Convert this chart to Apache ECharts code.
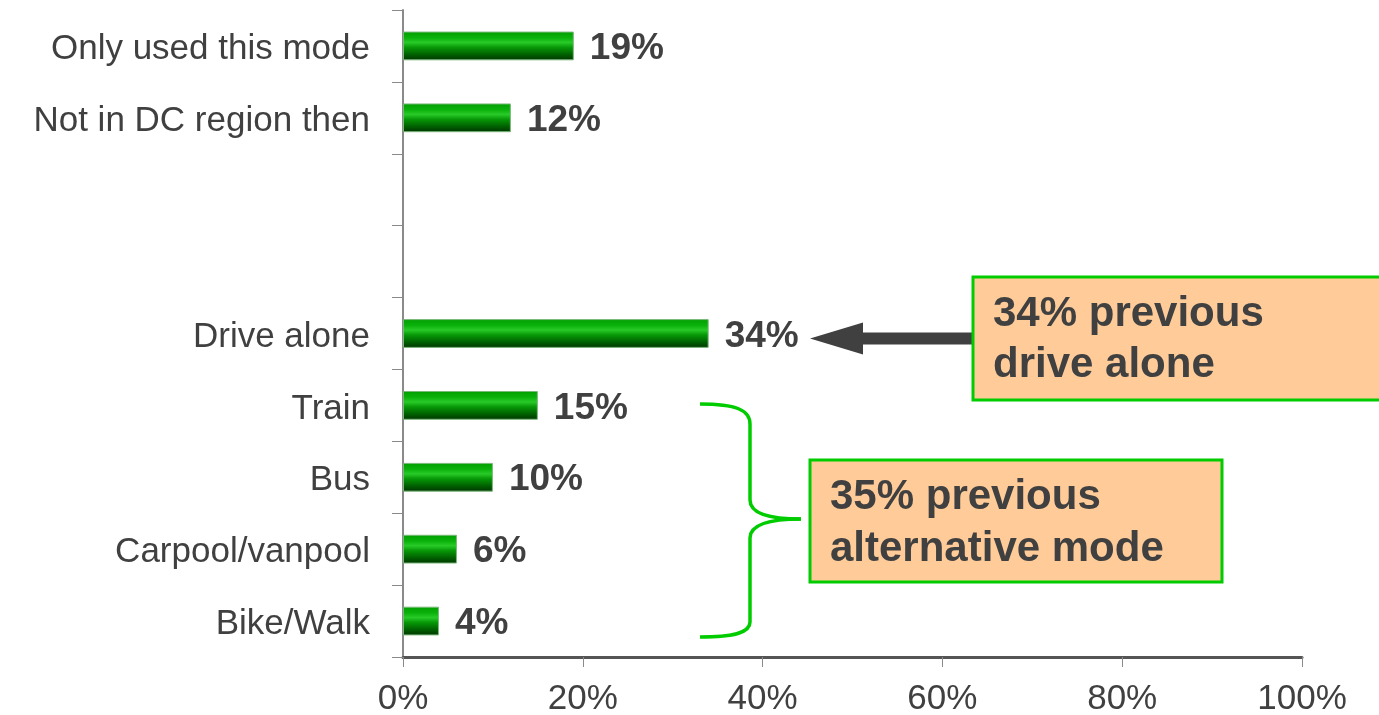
<!DOCTYPE html>
<html>
<head>
<meta charset="utf-8">
<script src="https://cdn.jsdelivr.net/npm/echarts@6/dist/echarts.min.js"></script>
<style>
  html, body { margin: 0; padding: 0; background: #ffffff; }
  #chart { width: 1379px; height: 715px; }
</style>
</head>
<body>
<div id="chart"></div>
<script>
// ---- data ----
const categories = ['Only used this mode', 'Not in DC region then', '', ' ', 'Drive alone', 'Train', 'Bus', 'Carpool/vanpool', 'Bike/Walk'];
const values = [19, 12, null, null, 34, 15, 10, 6, 4];
const xTicks = [0, 20, 40, 60, 80, 100];
const noteDrive = '34% previous\ndrive alone';
const noteAlt = '35% previous\nalternative mode';

const textColor = '#404040';
const barGradient = new echarts.graphic.LinearGradient(0, 0, 0, 1, [
  { offset: 0, color: '#009e00' },
  { offset: 0.22, color: '#0bb20b' },
  { offset: 0.38, color: '#28ca28' },
  { offset: 0.55, color: '#079807' },
  { offset: 0.8, color: '#006000' },
  { offset: 1, color: '#003400' }
]);

const chart = echarts.init(document.getElementById('chart'), null, { renderer: 'canvas' });

const option = {
  backgroundColor: '#ffffff',
  animation: false,
  grid: { left: 403, right: 77, top: 10, bottom: 58, containLabel: false, outerBoundsMode: 'none' },
  xAxis: {
    type: 'value',
    min: xTicks[0],
    max: xTicks[xTicks.length - 1],
    interval: xTicks[1] - xTicks[0],
    axisLine: { show: true, lineStyle: { color: '#555555', width: 3 } },
    axisTick: { show: true, length: 10, lineStyle: { color: '#8a8a8a', width: 1 } },
    splitLine: { show: false },
    axisLabel: {
      formatter: '{value}%',
      fontFamily: 'Liberation Sans',
      fontSize: 35,
      color: textColor,
      margin: 25
    }
  },
  yAxis: {
    type: 'category',
    inverse: true,
    data: categories,
    axisLine: { show: true, lineStyle: { color: '#8a8a8a', width: 2 } },
    axisTick: { show: true, length: 11, lineStyle: { color: '#8a8a8a', width: 1 } },
    axisLabel: {
      margin: 33,
      formatter: function (v) { return v.trim() ? '{t|' + v + '}' : ''; },
      rich: {
        t: { fontFamily: 'Liberation Sans', fontSize: 35, color: textColor, padding: [7, 0, 0, 0] }
      }
    }
  },
  series: [{
    type: 'bar',
    data: values,
    barWidth: '40%',
    itemStyle: { color: barGradient, borderColor: '#7ab87a', borderWidth: 1 },
    label: {
      show: true,
      position: 'right',
      distance: 16,
      offset: [0, 3],
      formatter: function (p) { return p.value == null ? '' : p.value + '%'; },
      fontFamily: 'Liberation Sans',
      fontWeight: 'bold',
      fontSize: 37,
      color: textColor
    }
  }]
};
chart.setOption(option);

// ---- annotations ----
const green = '#00cc00';
const boxFill = '#ffcc99';
const yDrive = chart.convertToPixel({ gridIndex: 0 }, [0, 4])[1];
const arrowY = yDrive + 5;
const braceStyle = { fill: null, stroke: green, lineWidth: 3.5 };

chart.setOption({
  graphic: [
    // arrow shaft + head
    { type: 'rect', shape: { x: 858, y: arrowY - 6, width: 116, height: 12 }, style: { fill: '#404040' }, z: 10 },
    { type: 'polygon', shape: { points: [[810, arrowY], [863, arrowY - 16], [863, arrowY + 16]] }, style: { fill: '#404040' }, z: 10 },
    // box 1
    { type: 'rect', shape: { x: 973, y: 277, width: 430, height: 123 }, style: { fill: boxFill, stroke: green, lineWidth: 3 }, z: 11 },
    { type: 'text', x: 993, y: 340, style: { text: noteDrive, font: 'bold 42px "Liberation Sans"', fill: textColor, lineHeight: 51, verticalAlign: 'middle', align: 'left' }, z: 12 },
    // brace
    { type: 'bezierCurve', shape: { x1: 700, y1: 404, cpx1: 736, cpy1: 404, cpx2: 750, cpy2: 410, x2: 750, y2: 424 }, style: braceStyle, z: 10 },
    { type: 'line', shape: { x1: 750, y1: 424, x2: 750, y2: 500 }, style: braceStyle, z: 10 },
    { type: 'bezierCurve', shape: { x1: 750, y1: 500, cpx1: 750, cpy1: 512, cpx2: 764, cpy2: 519, x2: 801, y2: 519 }, style: braceStyle, z: 10 },
    { type: 'bezierCurve', shape: { x1: 801, y1: 519, cpx1: 764, cpy1: 519, cpx2: 750, cpy2: 526, x2: 750, y2: 538 }, style: braceStyle, z: 10 },
    { type: 'line', shape: { x1: 750, y1: 538, x2: 750, y2: 622 }, style: braceStyle, z: 10 },
    { type: 'bezierCurve', shape: { x1: 750, y1: 622, cpx1: 750, cpy1: 632, cpx2: 736, cpy2: 637, x2: 700, y2: 637 }, style: braceStyle, z: 10 },
    // box 2
    { type: 'rect', shape: { x: 810, y: 460, width: 412, height: 122 }, style: { fill: boxFill, stroke: green, lineWidth: 3 }, z: 11 },
    { type: 'text', x: 830, y: 523, style: { text: noteAlt, font: 'bold 42px "Liberation Sans"', fill: textColor, lineHeight: 52, verticalAlign: 'middle', align: 'left' }, z: 12 }
  ]
});
</script>
</body>
</html>
